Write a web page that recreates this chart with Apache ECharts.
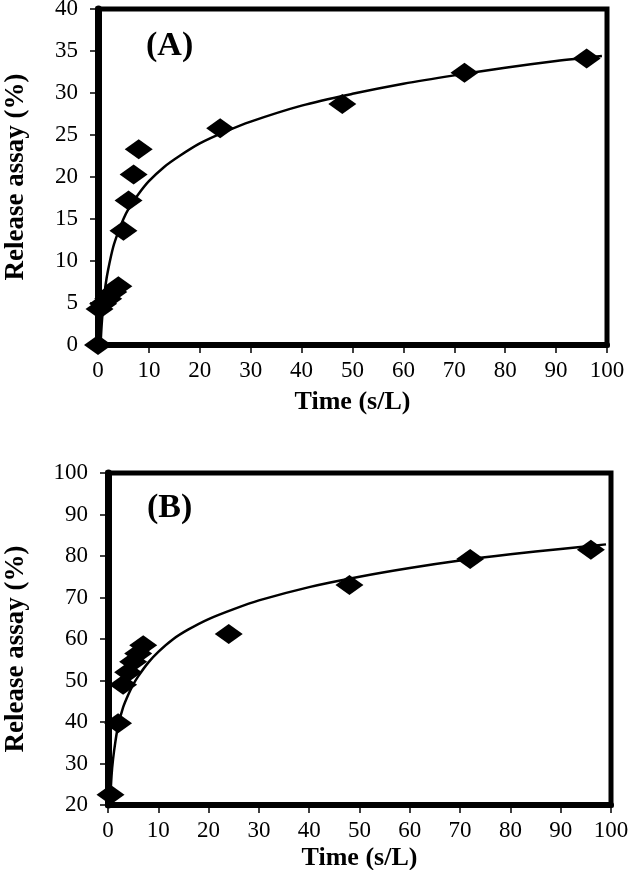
<!DOCTYPE html>
<html>
<head>
<meta charset="utf-8">
<script src="https://cdn.jsdelivr.net/npm/echarts@6/dist/echarts.min.js"></script>
<style>
html,body{margin:0;padding:0;background:#fff;}
#chart{width:642px;height:870px;}
</style>
</head>
<body>
<div id="chart"></div>
<script>
// Panel A measured points [time, release %]
var pointsA = [[0,0],[0.3,4.3],[1,4.9],[2,5.5],[3,6.3],[4,7.0],[5,13.6],[6,17.2],[7,20.3],[8,23.3],[24,25.8],[48,28.7],[72,32.4],[96,34.1]];
// Panel A fitted curve
var curveA = [[0.5,0],[0.7,2.2],[1,4.5],[1.5,7.2],[2,9],[3,11.7],[4,13.5],[5,15],[6,16.2],[8,18],[10,19.5],[13,21.2],[16,22.5],[20,24],[25,25.4],[30,26.6],[40,28.5],[50,29.9],[60,31.1],[70,32.1],[80,33],[90,33.8],[99,34.4]];
// Panel B measured points
var pointsB = [[0.5,22.5],[2,39.7],[3,49],[4,52],[5,54.5],[6,56.5],[7,58.5],[24,61.2],[48,73],[72,79.3],[96,81.5]];
// Panel B fitted curve
var curveB = [[0.4,20],[0.7,27],[1,31],[1.5,35.5],[2,39],[3,43.5],[4,46.5],[5,49],[6,51],[8,54.3],[10,56.9],[13,60],[16,62.3],[20,64.8],[25,67.2],[30,69.3],[40,72.5],[50,75],[60,77.1],[70,78.9],[80,80.4],[90,81.7],[99,82.8]];
var xTitle = 'Time (s/L)';
var yTitle = 'Release assay (%)';
var panelLabels = ['(A)', '(B)'];

var serif = '"Liberation Serif","DejaVu Serif",serif';
function xAxis(gi, gap){
  return {
    gridIndex: gi, type:'value', min:0, max:100, interval:10,
    name: xTitle, nameLocation:'middle', nameGap: gap,
    nameTextStyle:{fontFamily:serif, fontWeight:'bold', fontSize:26, color:'#000'},
    axisLine:{show:true, onZero:false, lineStyle:{color:'#000', width:6}},
    axisTick:{show:true, inside:false, length:8, lineStyle:{color:'#000', width:1.5}},
    axisLabel:{fontFamily:serif, fontSize:23, color:'#000', margin:14},
    splitLine:{show:false}
  };
}
function yAxis(gi, mn, mx, iv, gap, pad){
  return {
    gridIndex: gi, type:'value', min:mn, max:mx, interval:iv,
    name: yTitle, nameLocation:'middle', nameGap: gap, nameRotate: 90,
    nameTextStyle:{fontFamily:serif, fontWeight:'bold', fontSize:27, color:'#000', padding:pad},
    axisLine:{show:true, onZero:false, lineStyle:{color:'#000', width:7}},
    axisTick:{show:true, inside:false, length:8, lineStyle:{color:'#000', width:1.5}},
    axisLabel:{fontFamily:serif, fontSize:23, color:'#000', margin:20},
    splitLine:{show:false}
  };
}
var chart = echarts.init(document.getElementById('chart'));
chart.setOption({
  backgroundColor:'#fff',
  animation:false,
  grid:[
    {left:98, right:35, top:9, bottom:525, show:true, borderColor:'#000', borderWidth:5, backgroundColor:'#fff', containLabel:false, outerBoundsMode:'none'},
    {left:108, right:31, top:473, bottom:65, show:true, borderColor:'#000', borderWidth:5, backgroundColor:'#fff', containLabel:false, outerBoundsMode:'none'}
  ],
  xAxis:[xAxis(0, 44), xAxis(1, 40)],
  yAxis:[yAxis(0,0,40,5,68,[0,0,0,0]), yAxis(1,20,100,10,78,[0,20,0,0])],
  series:[
    {type:'line', xAxisIndex:0, yAxisIndex:0, data:curveA, smooth:0.3, showSymbol:false, symbol:'none', lineStyle:{color:'#000', width:2.5}, z:2},
    {type:'scatter', xAxisIndex:0, yAxisIndex:0, data:pointsA, symbol:'diamond', symbolSize:[28,20], itemStyle:{color:'#000', opacity:1}, z:3},
    {type:'line', xAxisIndex:1, yAxisIndex:1, data:curveB, smooth:0.3, showSymbol:false, symbol:'none', lineStyle:{color:'#000', width:2.5}, z:2},
    {type:'scatter', xAxisIndex:1, yAxisIndex:1, data:pointsB, symbol:'diamond', symbolSize:[28,20], itemStyle:{color:'#000', opacity:1}, z:3}
  ],
  graphic:[
    {type:'text', left:146, top:29, style:{text:panelLabels[0], font:'bold 34px '+serif, fill:'#000'}},
    {type:'text', left:147, top:491, style:{text:panelLabels[1], font:'bold 34px '+serif, fill:'#000'}}
  ]
});
</script>
</body>
</html>
